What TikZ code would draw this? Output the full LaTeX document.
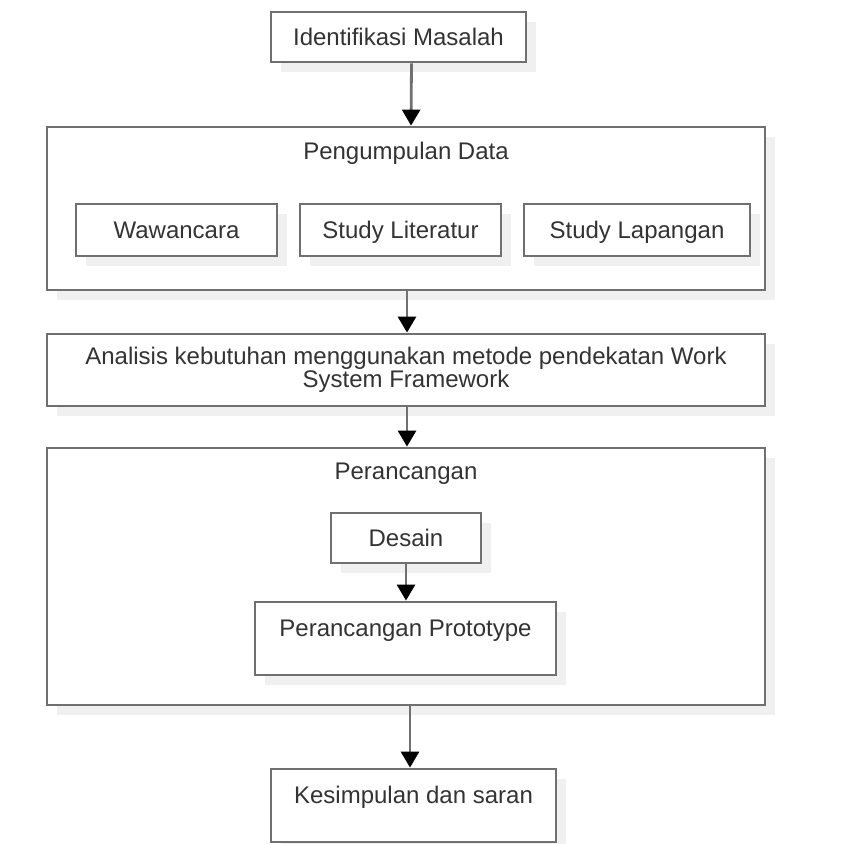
\documentclass[tikz,border=0pt]{standalone}
\usepackage{fontspec}
\setmainfont{Liberation Sans}
\usetikzlibrary{arrows.meta,shadows,positioning}
\definecolor{edge}{HTML}{707070}
\definecolor{ink}{HTML}{333333}
\begin{document}
\begin{tikzpicture}[x=0.5pt,y=-0.5pt,
  box/.style={draw=edge,line width=1.4pt,fill=white,text=ink,
    font=\fontsize{12}{11.5}\selectfont,inner sep=0pt,text height=10pt,text depth=1.2pt,
    drop shadow={shadow xshift=5pt,shadow yshift=-5pt,fill=black!6,opacity=1}},
  title/.style={text=ink,font=\fontsize{12}{11.5}\selectfont,inner sep=0pt},
  arr/.style={draw=edge,line width=1.4pt,-{Triangle[length=8pt,width=9pt,color=black]}}]

\useasboundingbox (0,0) rectangle (845,844);

\node[box,minimum width=127.5pt,minimum height=25pt] (ident) at (398.5,37) {Identifikasi Masalah};

\node[box,minimum width=359pt,minimum height=81.5pt] (data) at (406,208.5) {};
\node[title] (tdata) at ([yshift=-14pt]data.north) {Pengumpulan Data};
\node[box,minimum width=100.5pt,minimum height=26pt] (wawan) at (176.5,230) {Wawancara};
\node[box,minimum width=100.5pt,minimum height=26pt] (lit) at (400.5,230) {Study Literatur};
\node[box,minimum width=113pt,minimum height=26pt] (lap) at (637,230) {Study Lapangan};

\node[box,minimum width=359pt,minimum height=36pt,align=center,text height=,text depth=] (anls) at (406,370)
  {Analisis kebutuhan menggunakan metode pendekatan Work\\System Framework};

\node[box,minimum width=359pt,minimum height=128.5pt] (rancang) at (406,576.5) {};
\node[title] (trancang) at ([yshift=-13.5pt]rancang.north) {Perancangan};
\node[box,minimum width=75pt,minimum height=25pt] (desain) at (406,538) {Desain};
\node[box,minimum width=150.5pt,minimum height=36.5pt,text depth=12.4pt] (proto) at (405.5,638.5) {Perancangan Prototype};

\node[box,minimum width=142.5pt,minimum height=36.5pt,text depth=12.4pt] (simpul) at (413.5,805.5) {Kesimpulan dan saran};

\draw[arr] ([xshift=6.5pt]ident.south) -- ([xshift=2.5pt]data.north);
\draw[arr] ([xshift=0.5pt]data.south) -- ([xshift=0.5pt]anls.north);
\draw[arr] ([xshift=0.5pt]anls.south) -- ([xshift=0.5pt]rancang.north);
\draw[arr] (desain.south) -- (desain.south |- proto.north);
\draw[arr] ([xshift=2pt]rancang.south) -- ([xshift=2pt]rancang.south |- simpul.north);
\end{tikzpicture}
\end{document}
